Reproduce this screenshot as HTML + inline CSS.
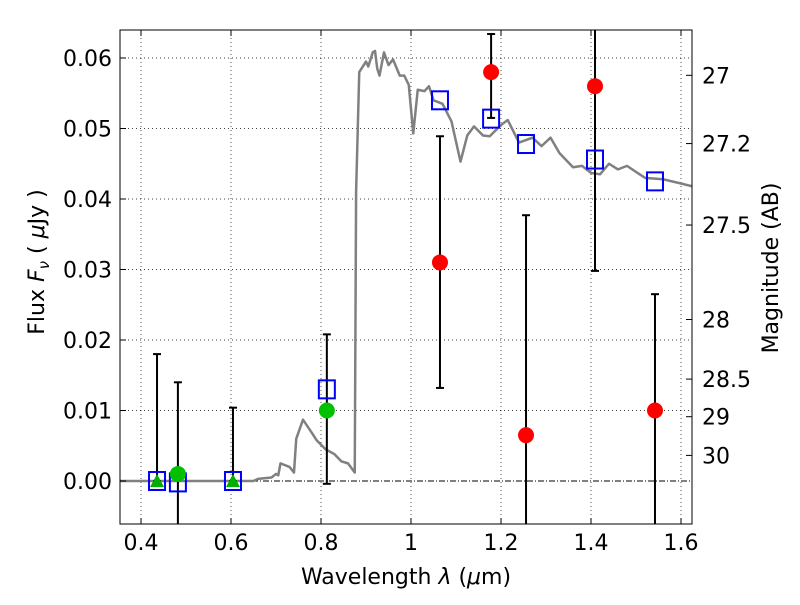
<!DOCTYPE html>
<html><head><meta charset="utf-8"><style>
body{margin:0;background:#fff;}
svg text{font-family:"DejaVu Sans","Liberation Sans",sans-serif;}
</style></head><body>
<svg id="chart" width="800" height="600" xmlns="http://www.w3.org/2000/svg">
<rect width="800" height="600" fill="#fff"/>
<g id="g"></g>
</svg>
<script>
const xTicks=[0.4,0.6,0.8,1.0,1.2,1.4,1.6];
const xTickLabels=["0.4","0.6","0.8","1","1.2","1.4","1.6"];
const yTicks=[0,0.01,0.02,0.03,0.04,0.05,0.06];
const yTickLabels=["0.00","0.01","0.02","0.03","0.04","0.05","0.06"];
const magTicks=[27,27.2,27.5,28,28.5,29,30];
const magLabels=["27","27.2","27.5","28","28.5","29","30"];
const specWave=[0.353,0.65,0.66,0.69,0.70,0.705,0.71,0.73,0.74,0.745,0.76,0.78,0.79,0.81,0.83,0.845,0.86,0.875,0.878,0.885,0.9,0.905,0.915,0.92,0.925,0.93,0.94,0.95,0.96,0.975,0.985,0.995,1.005,1.015,1.03,1.04,1.05,1.07,1.09,1.11,1.125,1.14,1.16,1.175,1.2,1.215,1.24,1.27,1.29,1.31,1.33,1.36,1.38,1.40,1.42,1.44,1.46,1.48,1.52,1.56,1.6,1.625];
const specFlux=[0,0,0.0003,0.0005,0.001,0.0008,0.0025,0.002,0.0012,0.006,0.0087,0.0068,0.0058,0.0045,0.0038,0.0028,0.0025,0.0012,0.041,0.058,0.0595,0.0588,0.0608,0.061,0.0585,0.0575,0.0608,0.059,0.0598,0.0575,0.0575,0.0562,0.0493,0.0555,0.0553,0.056,0.054,0.0535,0.051,0.0453,0.049,0.0503,0.049,0.0489,0.0505,0.0512,0.048,0.0487,0.0475,0.0487,0.0465,0.0445,0.0447,0.0437,0.0435,0.045,0.0442,0.0447,0.043,0.0428,0.0422,0.0418];
const modelWave=[0.4356,0.482,0.6044,0.813,1.0644,1.178,1.2556,1.4089,1.5422];
const modelFlux=[0,-0.0002,0,0.013,0.054,0.0514,0.0478,0.0456,0.0425];
const redWave=[1.0644,1.178,1.2556,1.4089,1.5422];
const redFlux=[0.031,0.058,0.0065,0.056,0.010];
const redHi=[0.0489,0.0634,0.0377,0.07,0.0265];
const redLo=[0.0132,0.0515,-0.01,0.0298,-0.01];
const greenWave=[0.482,0.813];
const greenFlux=[0.001,0.010];
const greenHi=[0.014,0.0208];
const greenLo=[-0.01,-0.0004];
const triWave=[0.4356,0.6044];
const triFlux=[0,0];
const triHi=[0.018,0.0104];
const triLo=[0,0];

const L=120,R=692,T=30,B=524;
const X=w=>141+(w-0.4)*450;
const Y=f=>481-f*7050;
const NS="http://www.w3.org/2000/svg";
const g=document.getElementById('g');
function el(t,a,p){const e=document.createElementNS(NS,t);for(const k in a)e.setAttribute(k,a[k]);(p||g).appendChild(e);return e;}
const defs=el('defs',{});const cp=el('clipPath',{id:'c'},defs);el('rect',{x:L,y:T,width:R-L,height:B-T},cp);
const plot=el('g',{'clip-path':'url(#c)'});
xTicks.forEach(v=>{const e=el('line',{x1:X(v),x2:X(v),y1:T,y2:B,stroke:'#000','stroke-width':0.7,'stroke-dasharray':'1,3'},plot);

});
yTicks.forEach(v=>{const e=el('line',{x1:L,x2:R,y1:Y(v),y2:Y(v),stroke:'#000','stroke-width':v===0?1:0.7,'stroke-dasharray':v===0?'6,2,1,2':'1,3'},plot);

});
const sp=el('polyline',{points:specWave.map((w,i)=>X(w)+','+Y(specFlux[i])).join(' '),fill:'none',stroke:'#808080','stroke-width':2.5,'stroke-linejoin':'round'},plot);


function err(w,hi,lo){const x=X(w);el('line',{x1:x,x2:x,y1:Y(hi),y2:Y(lo),stroke:'#000','stroke-width':2},plot);
[hi,lo].forEach(v=>{if(Y(v)>T&&Y(v)<B)el('line',{x1:x-4,x2:x+4,y1:Y(v),y2:Y(v),stroke:'#000','stroke-width':2},plot);});}
triWave.forEach((w,i)=>err(w,triHi[i],triLo[i]));
greenWave.forEach((w,i)=>err(w,greenHi[i],greenLo[i]));
redWave.forEach((w,i)=>err(w,redHi[i],redLo[i]));
modelWave.forEach((w,i)=>{const e=el('rect',{x:X(w)-8,y:Y(modelFlux[i])-9,width:16,height:18,fill:'none',stroke:'#0000ff','stroke-width':2},plot);

});
triWave.forEach((w,i)=>{const x=X(w),y=Y(triFlux[i]);const e=el('polygon',{points:`${x},${y-7} ${x-7},${y+6} ${x+7},${y+6}`,fill:'#00b000'},plot);

});
greenWave.forEach((w,i)=>{const e=el('ellipse',{cx:X(w),cy:Y(greenFlux[i]),rx:8,ry:8,fill:'#00c000'},plot);

});
redWave.forEach((w,i)=>{const e=el('ellipse',{cx:X(w),cy:Y(redFlux[i]),rx:8,ry:8,fill:'#ff0000'},plot);

});
el('rect',{x:L,y:T,width:R-L,height:B-T,fill:'none',stroke:'#000','stroke-width':1});
xTicks.forEach((v,i)=>{el('line',{x1:X(v),x2:X(v),y1:B,y2:B-6,stroke:'#000'});el('line',{x1:X(v),x2:X(v),y1:T,y2:T+6,stroke:'#000'});
const t=el('text',{x:X(v),y:B+26,'text-anchor':'middle','font-size':22});t.textContent=xTickLabels[i];

});
yTicks.forEach((v,i)=>{el('line',{x1:L,x2:L+6,y1:Y(v),y2:Y(v),stroke:'#000'});
const t=el('text',{x:L-8,y:Y(v)+8,'text-anchor':'end','font-size':22});t.textContent=yTickLabels[i];

});
magTicks.forEach((m,i)=>{const y=Y(Math.pow(10,(23.9-m)/2.5));el('line',{x1:R,x2:R-6,y1:y,y2:y,stroke:'#000'});
const t=el('text',{x:R+10,y:y+8,'font-size':22});t.textContent=magLabels[i];

});
let t=el('text',{x:406,y:584,'text-anchor':'middle','font-size':22});t.innerHTML='Wavelength  <tspan font-style="italic">λ</tspan> (<tspan font-style="italic">μ</tspan>m)';


t=el('text',{x:0,y:0,'text-anchor':'middle','font-size':22,transform:'translate(44,262) rotate(-90)'});t.innerHTML='Flux  <tspan font-style="italic">F</tspan><tspan font-style="italic" font-size="15" dy="5">ν</tspan><tspan dy="-5">  ( </tspan><tspan font-style="italic">μ</tspan>Jy )';


t=el('text',{x:0,y:0,'text-anchor':'middle','font-size':22,transform:'translate(778,268) rotate(-90)'});t.textContent='Magnitude (AB)';


</script>
</body></html>
